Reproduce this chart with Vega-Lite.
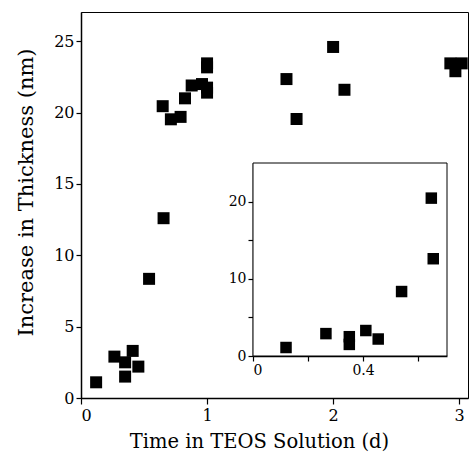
{
  "$schema": "https://vega.github.io/schema/vega-lite/v6.json",
  "width": 387,
  "height": 386,
  "autosize": "none",
  "padding": {"left": 81, "top": 12, "right": 1, "bottom": 64},
  "background": "white",
  "config": {
    "font": "DejaVu Serif",
    "view": {"stroke": "black", "strokeWidth": 1},
    "axis": {"grid": false, "domainColor": "black", "tickColor": "black", "labelColor": "black", "titleColor": "black", "labelFont": "DejaVu Serif", "titleFont": "DejaVu Serif", "titleFontWeight": "normal", "domainWidth": 1.5, "tickWidth": 1.2}
  },
  "data": {"values": [
    {"t": 0.12, "d": 1.1},
    {"t": 0.265, "d": 2.9},
    {"t": 0.35, "d": 2.5},
    {"t": 0.35, "d": 1.5},
    {"t": 0.41, "d": 3.3},
    {"t": 0.455, "d": 2.2},
    {"t": 0.54, "d": 8.35},
    {"t": 0.648, "d": 20.45},
    {"t": 0.655, "d": 12.6},
    {"t": 0.713, "d": 19.53},
    {"t": 0.79, "d": 19.7},
    {"t": 0.825, "d": 21.0},
    {"t": 0.878, "d": 21.9},
    {"t": 0.96, "d": 22.0},
    {"t": 1.0, "d": 23.45},
    {"t": 1.0, "d": 23.17},
    {"t": 1.0, "d": 21.75},
    {"t": 1.0, "d": 21.4},
    {"t": 1.63, "d": 22.35},
    {"t": 1.71, "d": 19.55},
    {"t": 2.0, "d": 24.6},
    {"t": 2.09, "d": 21.6},
    {"t": 2.93, "d": 23.45},
    {"t": 2.97, "d": 22.9},
    {"t": 3.02, "d": 23.45}
  ]},
  "layer": [
    {
      "mark": {"type": "point", "shape": "square", "filled": true, "color": "black", "opacity": 1, "size": 144, "clip": true},
      "encoding": {
        "x": {"field": "t", "type": "quantitative", "scale": {"domain": [0, 3.07], "nice": false, "zero": false},
          "axis": {"values": [0, 1, 2, 3], "format": "d", "title": "Time in TEOS Solution (d)", "labelFontSize": 16, "titleFontSize": 19.5, "tickSize": 6, "labelPadding": 3, "titlePadding": 9, "titleX": 178}},
        "y": {"field": "d", "type": "quantitative", "scale": {"domain": [0, 27.05], "nice": false},
          "axis": {"values": [0, 5, 10, 15, 20, 25], "title": "Increase in Thickness (nm)", "labelFontSize": 16, "titleFontSize": 21, "tickSize": 5, "labelPadding": 2, "titlePadding": 17, "titleY": 180}}
      }
    },
    {
      "transform": [{"filter": "datum.t < 0.7"}],
      "layer": [
        {
          "mark": {"type": "rect", "fill": "white", "stroke": "black", "strokeWidth": 1},
          "data": {"values": [{"x0": 0, "x1": 0.705, "y0": 0, "y1": 25}]},
          "encoding": {
            "x": {"field": "x0", "type": "quantitative"},
            "x2": {"field": "x1"},
            "y": {"field": "y0", "type": "quantitative"},
            "y2": {"field": "y1"}
          }
        },
        {
          "mark": {"type": "point", "shape": "square", "filled": true, "color": "black", "opacity": 1, "size": 132},
          "encoding": {
            "x": {"field": "t", "type": "quantitative"},
            "y": {"field": "d", "type": "quantitative"}
          }
        }
      ],
      "encoding": {
        "x": {"field": "t", "type": "quantitative", "scale": {"domain": [0, 0.705], "nice": false, "zero": false, "range": [172, 366]},
          "axis": {"orient": "bottom", "offset": -42, "values": [0, 0.2, 0.4, 0.6], "labelExpr": "datum.value == 0 ? '0' : (datum.value == 0.4 ? '0.4' : '')", "title": null, "labelFontSize": 14, "tickSize": 5, "labelPadding": 2}},
        "y": {"field": "d", "type": "quantitative", "scale": {"domain": [0, 25], "nice": false, "range": [344, 151]},
          "axis": {"orient": "left", "offset": -172, "values": [0, 5, 10, 15, 20], "labelExpr": "datum.value % 10 == 0 ? datum.label : ''", "title": null, "labelFontSize": 14, "tickSize": 5, "labelPadding": 2}}
      }
    }
  ],
  "resolve": {"scale": {"x": "independent", "y": "independent"}, "axis": {"x": "independent", "y": "independent"}}
}
